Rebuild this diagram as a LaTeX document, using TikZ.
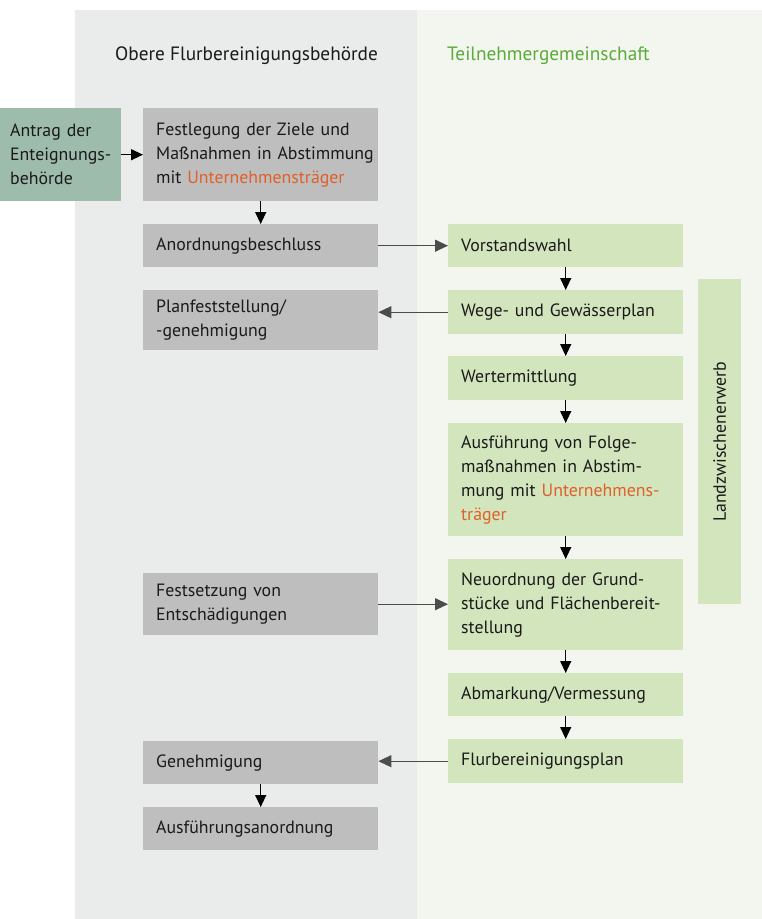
\documentclass[tikz,border=0pt]{standalone}
\usepackage{fontspec}
\setmainfont{PT Sans}
\usetikzlibrary{arrows.meta}
\definecolor{panelgray}{HTML}{E9ECEB}
\definecolor{panelgreen}{HTML}{F3F6EE}
\definecolor{boxgray}{HTML}{BEBEBE}
\definecolor{boxgreen}{HTML}{D3E5BD}
\definecolor{boxteal}{HTML}{9EBCAC}
\definecolor{hdrgreen}{HTML}{5BAA3A}
\definecolor{orangetxt}{HTML}{E0602A}
\definecolor{txt}{HTML}{1A1A1A}
\newcommand{\lineb}[1]{\mbox{#1}}
\tikzset{
  base/.style={rectangle, anchor=north west, inner ysep=0pt, inner xsep=13pt,
    text width=209pt, align=left, text=txt, font=\fontsize{17.8}{24}\selectfont},
  graybox/.style={base, fill=boxgray},
  greenbox/.style={base, fill=boxgreen},
  conn/.style={line width=1.3pt, draw=black, -{Triangle[length=12pt,width=11pt]}},
  hconn/.style={line width=1.3pt, draw=black!70, -{Triangle[length=13pt,width=12pt]}},
  hdr/.style={anchor=west, font=\fontsize{19.3}{24}\selectfont, inner sep=0pt}
}
\begin{document}
\begin{tikzpicture}[x=1pt,y=-1pt]
\useasboundingbox (0,0) rectangle (762,919);
\fill[white] (0,0) rectangle (762,919);
\fill[panelgray] (75,10) rectangle (417,919);
\fill[panelgreen] (417,10) rectangle (762,919);

\node[hdr, text=txt] (h1) at (115,56) {Obere Flurbereinigungsbehörde};
\node[hdr, text=hdrgreen] (h2) at (447,56) {Teilnehmergemeinschaft};

\node[base, fill=boxteal, inner xsep=10pt, text width=101pt, minimum height=93pt] (antrag) at (0,108) {\lineb{Antrag der}\\\lineb{Enteignungs-}\\\lineb{behörde}};
\node[graybox, minimum height=93pt] (fest) at (143,108) {\lineb{Festlegung der Ziele und}\\\lineb{Maßnahmen in Abstimmung}\\\lineb{mit \textcolor{orangetxt}{Unternehmensträger}}};
\node[graybox, minimum height=43pt] (anord) at (143,224) {Anordnungsbeschluss};
\node[graybox, minimum height=60pt] (planf) at (143,290) {\lineb{Planfeststellung/}\\\lineb{-genehmigung}};
\node[graybox, minimum height=62pt] (festsetz) at (143,573) {\lineb{Festsetzung von}\\\lineb{Entschädigungen}};
\node[graybox, minimum height=43pt] (genehm) at (143,741) {Genehmigung};
\node[graybox, minimum height=43pt] (ausfanord) at (143,807) {Ausführungsanordnung};

\node[greenbox, minimum height=43pt] (vorst) at (448,224) {Vorstandswahl};
\node[greenbox, minimum height=44pt] (wege) at (448,290) {\lineb{Wege- und Gewässerplan}};
\node[greenbox, minimum height=44pt] (wert) at (448,356) {Wertermittlung};
\node[greenbox, minimum height=113pt] (ausf) at (448,423) {\lineb{Ausführung von Folge-}\\\lineb{maßnahmen in Abstim-}\\\lineb{mung mit \textcolor{orangetxt}{Unternehmens-}}\\\lineb{\textcolor{orangetxt}{träger}}};
\node[greenbox, minimum height=91pt] (neu) at (448,559) {\lineb{Neuordnung der Grund-}\\\lineb{stücke und Flächenbereit-}\\\lineb{stellung}};
\node[greenbox, minimum height=43pt] (abm) at (448,673) {Abmarkung/Vermessung};
\node[greenbox, minimum height=44pt] (flurb) at (448,739) {Flurbereinigungsplan};

\node[rectangle, fill=boxgreen, minimum width=43pt, minimum height=325pt, anchor=north west, inner sep=0pt] (land) at (698,279) {};
\node[rotate=90, font=\fontsize{17.8}{24}\selectfont, text=txt, inner sep=0pt] (landtxt) at (land.center) {Landzwischenerwerb};

\draw[conn] (antrag.east) -- (fest.west);
\draw[conn] (fest.south) -- (anord.north);
\draw[hconn] (anord.east) -- (vorst.west);
\draw[conn] (vorst.south) -- (wege.north);
\draw[hconn] (wege.west) -- (planf.east |- wege.west);
\draw[conn] (wege.south) -- (wert.north);
\draw[conn] (wert.south) -- (ausf.north);
\draw[conn] (ausf.south) -- (neu.north);
\draw[hconn] (festsetz.east) -- (neu.west |- festsetz.east);
\draw[conn] (neu.south) -- (abm.north);
\draw[conn] (abm.south) -- (flurb.north);
\draw[hconn] (flurb.west) -- (genehm.east |- flurb.west);
\draw[conn] (genehm.south) -- (ausfanord.north);
\end{tikzpicture}
\end{document}
